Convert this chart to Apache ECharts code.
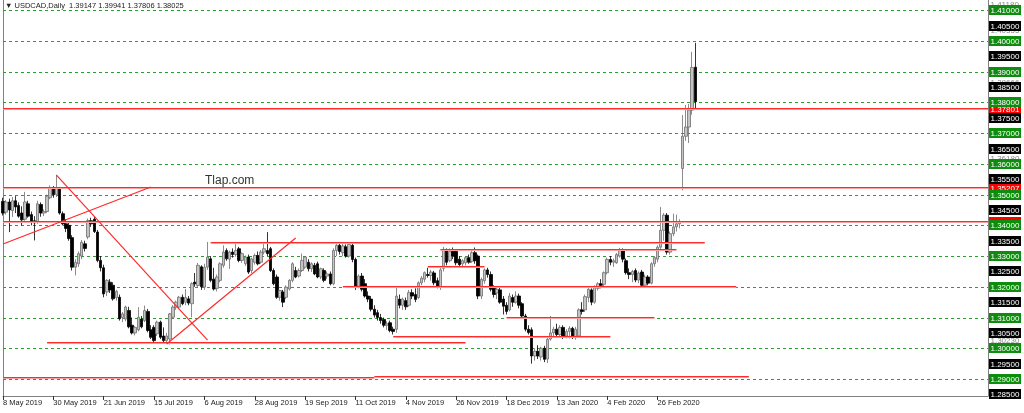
<!DOCTYPE html>
<html>
<head>
<meta charset="utf-8">
<script src="https://cdn.jsdelivr.net/npm/echarts@6/dist/echarts.min.js"></script>
<style>
  html, body { margin: 0; padding: 0; background: #fff; }
  #chart { width: 1024px; height: 413px; }
</style>
</head>
<body>
<div id="chart"></div>
<script>
// daily bars, [open, high, low, close]
const ohlcMayToOct2019 = [
  [1.3478,1.3490,1.3432,1.3440],[1.3443,1.3482,1.3435,1.3476],[1.3476,1.3487,1.3378,1.3450],[1.3448,1.3492,1.3427,1.3480],
  [1.3480,1.3495,1.3440,1.3460],[1.3465,1.3475,1.3425,1.3430],[1.3440,1.3462,1.3400,1.3418],[1.3420,1.3509,1.3415,1.3476],
  [1.3470,1.3480,1.3425,1.3430],[1.3435,1.3445,1.3400,1.3410],[1.3415,1.3430,1.3351,1.3408],[1.3410,1.3480,1.3405,1.3470],
  [1.3468,1.3475,1.3428,1.3440],[1.3440,1.3452,1.3430,1.3445],[1.3445,1.3500,1.3440,1.3495],[1.3490,1.3530,1.3485,1.3520],
  [1.3520,1.3528,1.3490,1.3500],[1.3500,1.3565,1.3492,1.3520],[1.3520,1.3525,1.3435,1.3440],[1.3438,1.3445,1.3400,1.3405],
  [1.3405,1.3420,1.3378,1.3390],[1.3400,1.3410,1.3350,1.3357],[1.3360,1.3368,1.3253,1.3264],[1.3264,1.3290,1.3237,1.3280],
  [1.3275,1.3315,1.3265,1.3308],[1.3300,1.3352,1.3290,1.3345],[1.3340,1.3350,1.3315,1.3325],[1.3362,1.3422,1.3355,1.3416],
  [1.3415,1.3425,1.3395,1.3405],[1.3420,1.3428,1.3375,1.3380],[1.3378,1.3385,1.3280,1.3286],[1.3286,1.3300,1.3250,1.3262],
  [1.3262,1.3272,1.3166,1.3177],[1.3183,1.3225,1.3170,1.3221],[1.3215,1.3225,1.3180,1.3190],[1.3205,1.3215,1.3155,1.3161],
  [1.3165,1.3190,1.3155,1.3185],[1.3166,1.3175,1.3090,1.3096],[1.3100,1.3118,1.3085,1.3112],[1.3095,1.3139,1.3088,1.3134],
  [1.3123,1.3135,1.3065,1.3070],[1.3075,1.3100,1.3045,1.3050],[1.3050,1.3072,1.3042,1.3068],[1.3060,1.3134,1.3055,1.3101],
  [1.3095,1.3105,1.3065,1.3070],[1.3090,1.3139,1.3085,1.3123],[1.3120,1.3128,1.3052,1.3058],[1.3060,1.3075,1.3030,1.3036],
  [1.3068,1.3075,1.3014,1.3025],[1.3047,1.3090,1.3040,1.3085],[1.3085,1.3090,1.3030,1.3036],[1.3040,1.3068,1.3015,1.3025],
  [1.3025,1.3050,1.3018,1.3040],[1.3030,1.3115,1.3012,1.3112],[1.3101,1.3140,1.3095,1.3134],[1.3134,1.3155,1.3125,1.3150],
  [1.3134,1.3170,1.3128,1.3166],[1.3166,1.3175,1.3140,1.3145],[1.3150,1.3193,1.3140,1.3165],[1.3161,1.3170,1.3140,1.3147],
  [1.3145,1.3215,1.3101,1.3210],[1.3215,1.3245,1.3200,1.3210],[1.3204,1.3278,1.3198,1.3270],[1.3265,1.3270,1.3190,1.3200],
  [1.3199,1.3275,1.3190,1.3264],[1.3264,1.3346,1.3255,1.3297],[1.3291,1.3300,1.3215,1.3221],[1.3225,1.3262,1.3188,1.3193],
  [1.3195,1.3240,1.3185,1.3232],[1.3221,1.3280,1.3215,1.3275],[1.3270,1.3335,1.3262,1.3313],[1.3318,1.3325,1.3285,1.3291],
  [1.3290,1.3318,1.3258,1.3313],[1.3313,1.3325,1.3295,1.3305],[1.3305,1.3346,1.3298,1.3318],[1.3324,1.3330,1.3280,1.3286],
  [1.3286,1.3312,1.3278,1.3308],[1.3275,1.3302,1.3268,1.3297],[1.3297,1.3305,1.3242,1.3248],[1.3253,1.3295,1.3245,1.3291],
  [1.3280,1.3308,1.3272,1.3302],[1.3302,1.3315,1.3270,1.3275],[1.3280,1.3320,1.3275,1.3313],[1.3313,1.3340,1.3305,1.3324],
  [1.3318,1.3378,1.3300,1.3308],[1.3324,1.3330,1.3248,1.3253],[1.3253,1.3260,1.3205,1.3210],[1.3232,1.3240,1.3161,1.3166],
  [1.3166,1.3190,1.3155,1.3188],[1.3183,1.3190,1.3134,1.3150],[1.3166,1.3205,1.3160,1.3199],[1.3193,1.3225,1.3188,1.3221],
  [1.3221,1.3280,1.3215,1.3275],[1.3253,1.3265,1.3228,1.3232],[1.3235,1.3260,1.3230,1.3253],[1.3253,1.3308,1.3248,1.3286],
  [1.3264,1.3300,1.3258,1.3297],[1.3280,1.3290,1.3250,1.3259],[1.3259,1.3280,1.3248,1.3275],[1.3270,1.3278,1.3238,1.3242],
  [1.3275,1.3282,1.3228,1.3232],[1.3232,1.3262,1.3225,1.3259],[1.3253,1.3260,1.3215,1.3221],[1.3235,1.3250,1.3225,1.3242],
  [1.3242,1.3250,1.3205,1.3210],[1.3210,1.3325,1.3205,1.3318],[1.3318,1.3346,1.3300,1.3335]
];
const ohlcOct2019ToFeb2020 = [
  [1.3335,1.3346,1.3305,1.3315],[1.3311,1.3340,1.3300,1.3333],[1.3330,1.3338,1.3295,1.3300],[1.3300,1.3346,1.3295,1.3338],
  [1.3335,1.3346,1.3280,1.3289],[1.3289,1.3295,1.3190,1.3202],[1.3202,1.3240,1.3195,1.3235],[1.3235,1.3245,1.3185,1.3192],
  [1.3210,1.3225,1.3165,1.3170],[1.3170,1.3185,1.3150,1.3160],[1.3160,1.3170,1.3120,1.3127],[1.3127,1.3140,1.3100,1.3108],
  [1.3116,1.3125,1.3090,1.3100],[1.3100,1.3112,1.3080,1.3090],[1.3094,1.3100,1.3068,1.3075],[1.3075,1.3088,1.3060,1.3080],
  [1.3083,1.3090,1.3052,1.3058],[1.3062,1.3070,1.3045,1.3055],[1.3062,1.3202,1.3050,1.3170],[1.3160,1.3175,1.3130,1.3140],
  [1.3140,1.3165,1.3125,1.3160],[1.3155,1.3165,1.3125,1.3135],[1.3140,1.3190,1.3135,1.3181],[1.3181,1.3192,1.3160,1.3170],
  [1.3175,1.3195,1.3150,1.3159],[1.3165,1.3218,1.3160,1.3213],[1.3213,1.3235,1.3205,1.3228],[1.3225,1.3250,1.3215,1.3246],
  [1.3240,1.3262,1.3230,1.3237],[1.3237,1.3255,1.3220,1.3248],[1.3245,1.3252,1.3205,1.3213],[1.3220,1.3230,1.3195,1.3202],
  [1.3200,1.3267,1.3190,1.3255],[1.3260,1.3330,1.3250,1.3322],[1.3318,1.3325,1.3270,1.3280],[1.3285,1.3325,1.3280,1.3315],
  [1.3315,1.3328,1.3290,1.3300],[1.3315,1.3322,1.3270,1.3278],[1.3290,1.3300,1.3268,1.3272],[1.3275,1.3290,1.3262,1.3285],
  [1.3278,1.3300,1.3270,1.3295],[1.3295,1.3305,1.3275,1.3280],[1.3283,1.3318,1.3278,1.3311],[1.3311,1.3328,1.3275,1.3285],
  [1.3300,1.3305,1.3160,1.3170],[1.3170,1.3230,1.3160,1.3224],[1.3220,1.3260,1.3210,1.3255],[1.3255,1.3262,1.3230,1.3240],
  [1.3240,1.3250,1.3185,1.3192],[1.3195,1.3205,1.3165,1.3175],[1.3180,1.3200,1.3160,1.3192],[1.3190,1.3198,1.3145,1.3150],
  [1.3160,1.3170,1.3110,1.3137],[1.3140,1.3150,1.3110,1.3120],[1.3125,1.3180,1.3120,1.3170],[1.3165,1.3175,1.3135,1.3150],
  [1.3150,1.3185,1.3145,1.3170],[1.3170,1.3178,1.3130,1.3140],[1.3145,1.3150,1.3095,1.3105],[1.3105,1.3112,1.3055,1.3062],
  [1.3062,1.3075,1.3045,1.3051],[1.3060,1.3068,1.2950,1.2975],[1.2975,1.3000,1.2960,1.2990],[1.2990,1.3010,1.2965,1.2975],
  [1.2972,1.3005,1.2960,1.3000],[1.3000,1.3008,1.2955,1.2964],[1.2965,1.3035,1.2952,1.3029],[1.3030,1.3105,1.3025,1.3050],
  [1.3050,1.3070,1.3035,1.3062],[1.3062,1.3080,1.3038,1.3045],[1.3045,1.3075,1.3035,1.3068],[1.3068,1.3075,1.3030,1.3040],
  [1.3040,1.3062,1.3032,1.3055],[1.3055,1.3072,1.3032,1.3065],[1.3065,1.3070,1.3030,1.3035],[1.3035,1.3070,1.3028,1.3062],
  [1.3040,1.3130,1.3035,1.3125],[1.3125,1.3150,1.3110,1.3120],[1.3125,1.3175,1.3118,1.3168],[1.3165,1.3198,1.3150,1.3192],
  [1.3190,1.3195,1.3140,1.3150],[1.3150,1.3205,1.3145,1.3200],[1.3195,1.3215,1.3188,1.3210],[1.3210,1.3225,1.3195,1.3205],
  [1.3208,1.3250,1.3200,1.3246],[1.3246,1.3295,1.3240,1.3289],[1.3289,1.3300,1.3270,1.3280],[1.3280,1.3292,1.3265,1.3285],
  [1.3278,1.3310,1.3275,1.3305],[1.3300,1.3327,1.3295,1.3318],[1.3318,1.3325,1.3280,1.3290],[1.3285,1.3292,1.3240,1.3246]
];
const ohlcFebToMar2020 = [
  [1.3246,1.3260,1.3225,1.3240],[1.3240,1.3255,1.3215,1.3250],[1.3253,1.3260,1.3215,1.3222],[1.3222,1.3250,1.3212,1.3245],
  [1.3248,1.3255,1.3200,1.3205],[1.3205,1.3240,1.3199,1.3232],[1.3232,1.3238,1.3205,1.3212],[1.3212,1.3280,1.3208,1.3275],
  [1.3275,1.3300,1.3265,1.3295],[1.3290,1.3335,1.3280,1.3329],[1.3329,1.3460,1.3320,1.3384],[1.3384,1.3440,1.3350,1.3433],
  [1.3433,1.3440,1.3305,1.3313],[1.3313,1.3380,1.3305,1.3373],[1.3373,1.3438,1.3365,1.3395],[1.3395,1.3435,1.3380,1.3405],
  [1.3405,1.3420,1.3390,1.3411],[1.3585,1.3759,1.3514,1.3690],[1.3690,1.3792,1.3675,1.3720],[1.3720,1.3795,1.3668,1.3775],
  [1.3775,1.3965,1.3760,1.3914],[1.39147,1.39941,1.37806,1.38025]
];

// price scale
const gridLevels = [1.29, 1.30, 1.31, 1.32, 1.33, 1.34, 1.35, 1.36, 1.37, 1.38, 1.39, 1.40, 1.41];
const halfLevels = [1.285, 1.295, 1.305, 1.315, 1.325, 1.335, 1.345, 1.355, 1.365, 1.375, 1.385, 1.395, 1.405];
// full-width support / resistance lines
const redLevels = [1.37801, 1.35207, 1.34120];
// short horizontal lines: [from bar, to bar, price]
const redSegments = [
  [66, 223, 1.3344], [139, 214, 1.3320], [135, 153, 1.3266], [108, 233, 1.3201],
  [160, 207, 1.3098], [124, 193, 1.3038], [14, 147, 1.3017], [0, 118, 1.2903], [118, 237, 1.2907]
];
// trend lines: [bar, price, bar, price]
const trendLines = [
  [17, 1.35638, 65, 1.30267],
  [0, 1.33392, 47, 1.35247],
  [52, 1.30137, 93, 1.33587]
];
// faded price tags behind the scale: [price, text]
const greyTags = [[1.4120, '1.41180'], [1.40355, '1.40355'], [1.38666, '1.38666'], [1.3618, '1.36180'], [1.3254, '1.32755'], [1.3026, '1.30230']];

const firstDay = '2019-05-08';
const holidays = ['2019-12-25', '2020-01-01'];
const slots = 314;
const yMin = 1.28447, yMax = 1.41334;

const MONTHS = ['Jan','Feb','Mar','Apr','May','Jun','Jul','Aug','Sep','Oct','Nov','Dec'];
const ohlc = ohlcMayToOct2019.concat(ohlcOct2019ToFeb2020, ohlcFebToMar2020);

function tradingDays(start, n) {
  const out = [];
  const d = new Date(start + 'T00:00:00Z');
  while (out.length < n) {
    const iso = d.toISOString().slice(0, 10);
    const wd = d.getUTCDay();
    if (wd !== 0 && wd !== 6 && holidays.indexOf(iso) < 0) {
      out.push(d.getUTCDate() + ' ' + MONTHS[d.getUTCMonth()] + ' ' + d.getUTCFullYear());
    }
    d.setUTCDate(d.getUTCDate() + 1);
  }
  return out;
}
const dates = tradingDays(firstDay, slots);
const showDate = (i) => i % 16 === 0 && i < ohlc.length;

const FONT = 'Liberation Sans, Arial, sans-serif';
const RED = '#ff2a2a';

// tags drawn in order: grey first, then red, then black/green on top
const tags = []
  .concat(greyTags.map(([v, t]) => ({ value: v, text: t, bg: null, fg: '#8a8a8a' })))
  .concat(redLevels.map(v => ({ value: v, text: v.toFixed(5), bg: '#ff0000', fg: '#fff' })))
  .concat(halfLevels.map(v => ({ value: v, text: v.toFixed(5), bg: '#000', fg: '#fff' })))
  .concat(gridLevels.map(v => ({ value: v, text: v.toFixed(5), bg: '#0e8c0e', fg: '#fff' })));

// red horizontal line between two bars (or across the whole grid): solid row plus a soft row below
function hBand(params, api, price, a, b) {
  const cs = params.coordSys;
  const y = Math.round(api.coord([0, price])[1]);
  const x1 = a == null ? cs.x : api.coord([a, price])[0];
  const x2 = b == null ? cs.x + cs.width : api.coord([b, price])[0];
  return {
    type: 'group',
    children: [
      { type: 'rect', shape: { x: x1, y: y, width: x2 - x1, height: 1 }, style: { fill: '#ff9c9c' } },
      { type: 'rect', shape: { x: x1, y: y - 1, width: x2 - x1, height: 1 }, style: { fill: RED } }
    ]
  };
}

const last = ohlc[ohlc.length - 1];
const chart = echarts.init(document.getElementById('chart'), null, { renderer: 'canvas' });
chart.setOption({
  animation: false,
  backgroundColor: '#fff',
  grid: { left: 2, right: 36, top: 0, bottom: 17 },
  xAxis: {
    type: 'category',
    data: dates,
    boundaryGap: false,
    axisLine: { lineStyle: { color: '#808080' } },
    axisTick: { show: true, length: 4, interval: showDate, lineStyle: { color: '#333' } },
    axisLabel: {
      interval: showDate, align: 'left', margin: 3,
      fontSize: 7.5, fontFamily: FONT, color: '#1a1a1a'
    },
    splitLine: { show: false }
  },
  yAxis: [
    { type: 'value', min: yMin, max: yMax, position: 'left', scale: true,
      axisLine: { show: true, lineStyle: { color: '#808080' } },
      axisTick: { show: false }, axisLabel: { show: false }, splitLine: { show: false } },
    { type: 'value', min: yMin, max: yMax, position: 'right', scale: true,
      axisLine: { show: true, lineStyle: { color: '#808080' } },
      axisTick: { show: false }, axisLabel: { show: false }, splitLine: { show: false } }
  ],
  graphic: [
    { type: 'text', left: 5, top: 2, style: {
      text: '\u25BC USDCAD,Daily  ' + last.map(v => v.toFixed(5)).join(' '),
      fontSize: 7.5, fontFamily: FONT, fill: '#222' } },
    { type: 'text', left: 205, top: 175, style: {
      text: 'Tlap.com', fontSize: 12, fontFamily: FONT, fill: '#333' } }
  ],
  series: [
    {
      // green dotted price grid
      type: 'custom', z: 1, silent: true, clip: false,
      data: gridLevels.map(v => [0, v]),
      renderItem: (params, api) => {
        const cs = params.coordSys;
        const y = Math.round(api.coord([0, gridLevels[params.dataIndex]])[1]) + 0.5;
        return {
          type: 'line',
          shape: { x1: cs.x, y1: y, x2: cs.x + cs.width, y2: y },
          style: { stroke: '#2c9c2c', lineWidth: 1, lineDash: [3, 3] }
        };
      }
    },
    {
      type: 'candlestick', z: 2,
      barWidth: 3,
      data: ohlc.map(([o, h, l, c]) => [o, c, l, h]),
      itemStyle: {
        color: '#c4c4c4', color0: '#000',
        borderColor: '#6e6e6e', borderColor0: '#000', borderWidth: 0.8
      }
    },
    {
      // full-width red levels
      type: 'custom', z: 3, silent: true, clip: false,
      data: redLevels.map(v => [0, v]),
      renderItem: (params, api) => hBand(params, api, redLevels[params.dataIndex], null, null)
    },
    {
      // short red horizontal lines
      type: 'custom', z: 3, silent: true, clip: false,
      data: redSegments.map(s => [s[0], s[2]]),
      renderItem: (params, api) => {
        const [a, b, p] = redSegments[params.dataIndex];
        return hBand(params, api, p, a, b);
      }
    },
    {
      // trend lines
      type: 'custom', z: 3, silent: true, clip: false,
      data: trendLines.map(t => [t[0], t[1]]),
      renderItem: (params, api) => {
        const [a, pa, b, pb] = trendLines[params.dataIndex];
        const p1 = api.coord([a, pa]), p2 = api.coord([b, pb]);
        return {
          type: 'line',
          shape: { x1: p1[0], y1: p1[1], x2: p2[0], y2: p2[1] },
          style: { stroke: RED, lineWidth: 1.2 }
        };
      }
    },
    {
      // price tags on the right scale
      type: 'custom', z: 5, silent: true, clip: false,
      data: tags.map(t => [0, t.value]),
      renderItem: (params, api) => {
        const t = tags[params.dataIndex];
        const cs = params.coordSys;
        const y = Math.round(api.coord([0, t.value])[1]);
        const x = cs.x + cs.width + 1;
        const children = [];
        if (t.bg) children.push({ type: 'rect', shape: { x: x, y: y - 5, width: 32, height: 10 }, style: { fill: t.bg } });
        children.push({ type: 'text', x: x + 1.5, y: y + 0.5, style: {
          text: t.text, fill: t.fg, fontSize: 8, fontFamily: FONT, verticalAlign: 'middle', align: 'left' } });
        return { type: 'group', children: children };
      }
    }
  ]
});
</script>
</body>
</html>
